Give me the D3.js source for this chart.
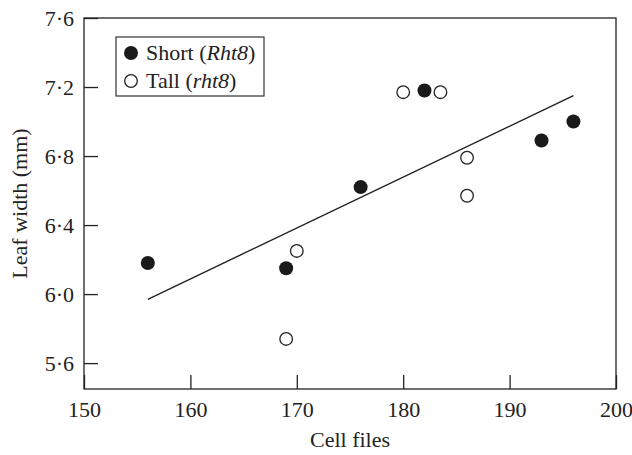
<!DOCTYPE html>
<html>
<head>
<meta charset="utf-8">
<script src="https://cdn.jsdelivr.net/npm/d3@7"></script>
<style>
body { margin: 0; background: #fff; }
text { font-family: "Liberation Serif", "Times New Roman", serif; fill: #222; }
</style>
</head>
<body>
<svg class="chart" width="632" height="455"></svg>
<script>
// cell files vs leaf width
var shortX = [156, 169, 176, 182, 193, 196];
var shortY = [6.18, 6.15, 6.62, 7.18, 6.89, 7.00];
var tallX = [169, 170, 180, 183.5, 186, 186];
var tallY = [5.74, 6.25, 7.17, 7.17, 6.79, 6.57];
var fitX = [156, 196];
var fitY = [5.97, 7.15];
var xTicks = [150, 160, 170, 180, 190, 200];
var yTicks = [5.6, 6.0, 6.4, 6.8, 7.2, 7.6];

var svg = d3.select(".chart"),
    x0 = 84, x1 = 616, y0 = 18, y1 = 389;

var x = d3.scaleLinear().domain([150, 200]).range([x0, x1]),
    y = d3.scaleLinear().domain([5.45, 7.6]).range([y1, y0]);

var fmt = function(d) { return d3.format(".1f")(d).replace(".", "\u00b7"); };

var xa = svg.append("g")
    .attr("transform", "translate(0," + y1 + ")")
    .call(d3.axisBottom(x).tickValues(xTicks).tickSizeInner(-14).tickSizeOuter(0).tickPadding(12));
var ya = svg.append("g")
    .attr("transform", "translate(" + x0 + ",0)")
    .call(d3.axisLeft(y).tickValues(yTicks).tickFormat(fmt).tickSizeInner(-14).tickSizeOuter(0).tickPadding(10));

[xa, ya].forEach(function(a) {
    a.select(".domain").remove();
    a.selectAll("line").attr("stroke", "#222").attr("stroke-width", 1.3);
    a.selectAll("text").attr("font-size", 22).attr("font-family", "Liberation Serif").attr("fill", "#222");
});

svg.append("rect")
    .attr("x", x0).attr("y", y0)
    .attr("width", x1 - x0).attr("height", y1 - y0)
    .attr("fill", "none").attr("stroke", "#222").attr("stroke-width", 1.3);

svg.append("text")
    .attr("x", (x0 + x1) / 2).attr("y", 447)
    .attr("text-anchor", "middle").attr("font-size", 22)
    .text("Cell files");

svg.append("text")
    .attr("transform", "translate(27," + (y0 + y1) / 2 + ") rotate(-90)")
    .attr("text-anchor", "middle").attr("font-size", 22)
    .text("Leaf width (mm)");

// fitted line
svg.append("line")
    .attr("x1", x(fitX[0])).attr("y1", y(fitY[0]))
    .attr("x2", x(fitX[1])).attr("y2", y(fitY[1]))
    .attr("stroke", "#222").attr("stroke-width", 1.4);

svg.selectAll(".tall")
    .data(tallX)
    .enter().append("circle")
    .attr("class", "tall")
    .attr("cx", function(d) { return x(d); })
    .attr("cy", function(d, i) { return y(tallY[i]); })
    .attr("r", 6.3)
    .attr("fill", "#fff").attr("stroke", "#222").attr("stroke-width", 1.3);

svg.selectAll(".short")
    .data(shortX)
    .enter().append("circle")
    .attr("class", "short")
    .attr("cx", function(d) { return x(d); })
    .attr("cy", function(d, i) { return y(shortY[i]); })
    .attr("r", 7)
    .attr("fill", "#1a1a1a");

// legend
var lg = svg.append("g");
lg.append("rect")
    .attr("x", 116).attr("y", 37).attr("width", 148).attr("height", 59)
    .attr("fill", "#fff").attr("stroke", "#333").attr("stroke-width", 1.2);
lg.append("circle").attr("cx", 131).attr("cy", 53).attr("r", 7).attr("fill", "#1a1a1a");
lg.append("circle").attr("cx", 131).attr("cy", 81).attr("r", 6.3)
    .attr("fill", "#fff").attr("stroke", "#222").attr("stroke-width", 1.3);
var t1 = lg.append("text").attr("x", 146).attr("y", 60).attr("font-size", 22);
t1.append("tspan").text("Short (");
t1.append("tspan").attr("font-style", "italic").text("Rht8");
t1.append("tspan").text(")");
var t2 = lg.append("text").attr("x", 146).attr("y", 88).attr("font-size", 22);
t2.append("tspan").text("Tall (");
t2.append("tspan").attr("font-style", "italic").text("rht8");
t2.append("tspan").text(")");
</script>
</body>
</html>
